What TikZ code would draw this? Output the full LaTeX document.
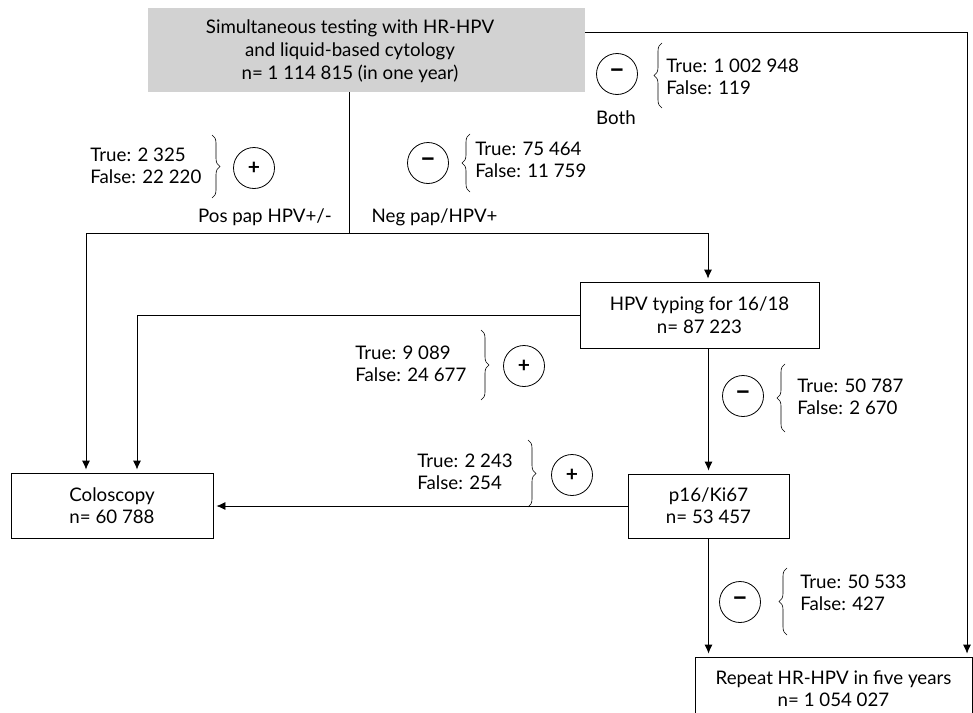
\documentclass[tikz,border=0pt]{standalone}
\usepackage{fontspec}
\setmainfont{Lato}
\usetikzlibrary{positioning,arrows.meta,decorations.pathreplacing}

\newcommand{\minussign}{{\fontsize{28}{28}\selectfont\bfseries –}}

\begin{document}
\begin{tikzpicture}[
  x=1pt, y=-1pt,
  line width=0.8pt,
  every node/.style={font=\fontsize{18.7}{22}\selectfont},
  stagebox/.style={draw, rectangle, align=center, inner sep=0pt},
  sign/.style={draw, circle, minimum size=41pt, inner sep=0pt, font=\fontsize{21}{22}\selectfont\bfseries},
  tally/.style={align=left, anchor=west, inner sep=0pt},
  curly/.style={decorate, decoration={brace, amplitude=8pt}, line width=0.6pt},
  flow/.style={-{Latex[length=9pt,width=8pt]}, shorten >=3pt}
  ]
  \useasboundingbox (0,0) rectangle (973,712);

  % boxes
  \node[fill=gray!35, minimum width=437pt, minimum height=84pt] (screen) at (366.5,50) {};
  \node[align=center, inner sep=0pt] (screenText) at (350,51)
    {Simultaneous testing with HR-HPV\\[1pt] and liquid-based cytology\\[1pt] n= 1 114 815 (in one year)};
  \node[stagebox, minimum width=239pt, minimum height=66pt] (hpv) at (699.5,315) {HPV typing for 16/18\\[1pt] n= 87 223};
  \node[stagebox, minimum width=161pt, minimum height=64pt] (p16) at (708.5,506) {p16/Ki67\\ n= 53 457};
  \node[stagebox, minimum width=202pt, minimum height=65pt] (colo) at (112,505.5) {Coloscopy\\ n= 60 788};
  \node[stagebox, minimum width=277pt, minimum height=64pt] (rep) at (833.5,689) {Repeat HR-HPV in five years\\ n= 1 054 027};

  % connectors
  \coordinate (split) at (349,233);
  \coordinate (splitL) at (86,233);
  \coordinate (splitR) at (708,233);
  \coordinate (turn) at (967,32);
  \draw (split |- screen.south) -- (split);
  \draw (splitL) -- (splitR);
  \draw[flow] (splitL) -- (splitL |- colo.north);
  \draw[flow] (splitR) -- (splitR |- hpv.north);
  \draw[flow] (hpv.west) -| ([xshift=25pt]colo.north);
  \draw[flow] (p16.north |- hpv.south) -- (p16.north);
  \draw[flow] (p16.west) -- (colo.east |- p16.west);
  \draw[flow] (p16.south) -- (p16.south |- rep.north);
  \draw[flow] ([yshift=18pt]screen.east) -- (turn) -- (turn |- rep.north);

  % results of the first test
  \node[tally] (posTally) at (90,166) {True: 2 325\\ False: 22 220};
  \draw[curly] (212,135) -- (212,198);
  \node[sign] (posSign) at (254,168) {+};
  \node (posLabel) at (265,217) {Pos pap HPV+/-};

  \node[sign] (negSign) at (428,163) {\minussign};
  \draw[curly] (470,192) -- (470,134);
  \node[tally] (negTally) at (475,160) {True: 75 464\\ False: 11 759};
  \node[anchor=west] (negLabel) at (368,217) {Neg pap/HPV+};

  \node[sign] (bothSign) at (617,74) {\minussign};
  \draw[curly] (662,108) -- (662,43);
  \node[tally] (bothTally) at (666,77) {True: 1 002 948\\ False: 119};
  \node (bothLabel) at (616,118) {Both};

  % HPV typing
  \node[tally] (hpvPosTally) at (355,364) {True: 9 089\\ False: 24 677};
  \draw[curly] (481,330) -- (481,400);
  \node[sign] (hpvPosSign) at (524,366) {+};

  \node[sign] (hpvNegSign) at (743,396) {\minussign};
  \draw[curly] (785,432) -- (785,364);
  \node[tally] (hpvNegTally) at (797,397) {True: 50 787\\ False: 2 670};

  % p16/Ki67
  \node[tally] (p16PosTally) at (417,472) {True: 2 243\\ False: 254};
  \draw[curly] (528,440) -- (528,507);
  \node[sign] (p16PosSign) at (572,475) {+};

  \node[sign] (p16NegSign) at (740,602) {\minussign};
  \draw[curly] (787,635) -- (787,568);
  \node[tally] (p16NegTally) at (800,593) {True: 50 533\\ False: 427};
\end{tikzpicture}
\end{document}
